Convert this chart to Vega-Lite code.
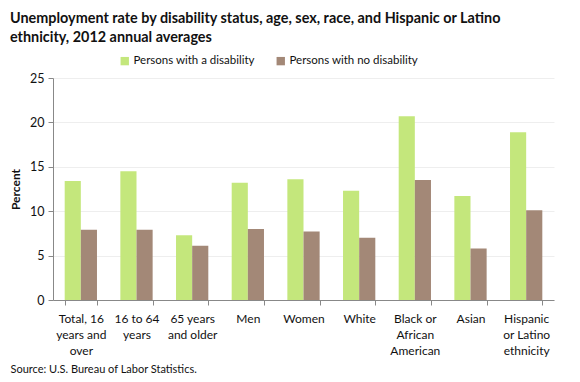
{
  "$schema": "https://vega.github.io/schema/vega-lite/v6.json",
  "width": 501,
  "height": 222,
  "autosize": {"type": "none"},
  "padding": {"left": 53, "top": 78, "right": 26, "bottom": 82},
  "background": "white",
  "config": {
    "font": "Lato",
    "view": {"stroke": null},
    "axis": {"labelFont": "Lato", "titleFont": "Lato", "labelColor": "#111111", "titleColor": "#111111"}
  },
  "title": {
    "text": ["Unemployment rate by disability status, age, sex, race, and Hispanic or Latino", "ethnicity, 2012 annual averages"],
    "anchor": "start",
    "frame": "group",
    "dx": -43,
    "offset": 10,
    "fontSize": 14.4,
    "fontWeight": "bold",
    "lineHeight": 19,
    "color": "#111111",
    "font": "Lato"
  },
  "data": {
    "values": [
      {"group": "Total, 16 years and over", "status": "Persons with a disability", "rate": 13.4},
      {"group": "Total, 16 years and over", "status": "Persons with no disability", "rate": 7.9},
      {"group": "16 to 64 years", "status": "Persons with a disability", "rate": 14.5},
      {"group": "16 to 64 years", "status": "Persons with no disability", "rate": 7.9},
      {"group": "65 years and older", "status": "Persons with a disability", "rate": 7.3},
      {"group": "65 years and older", "status": "Persons with no disability", "rate": 6.1},
      {"group": "Men", "status": "Persons with a disability", "rate": 13.2},
      {"group": "Men", "status": "Persons with no disability", "rate": 8.0},
      {"group": "Women", "status": "Persons with a disability", "rate": 13.6},
      {"group": "Women", "status": "Persons with no disability", "rate": 7.7},
      {"group": "White", "status": "Persons with a disability", "rate": 12.3},
      {"group": "White", "status": "Persons with no disability", "rate": 7.0},
      {"group": "Black or African American", "status": "Persons with a disability", "rate": 20.7},
      {"group": "Black or African American", "status": "Persons with no disability", "rate": 13.5},
      {"group": "Asian", "status": "Persons with a disability", "rate": 11.7},
      {"group": "Asian", "status": "Persons with no disability", "rate": 5.8},
      {"group": "Hispanic or Latino ethnicity", "status": "Persons with a disability", "rate": 18.9},
      {"group": "Hispanic or Latino ethnicity", "status": "Persons with no disability", "rate": 10.1}
    ]
  },
  "mark": {"type": "bar"},
  "encoding": {
    "x": {
      "field": "group",
      "type": "nominal",
      "sort": null,
      "scale": {"paddingInner": 0.42, "paddingOuter": 0.21},
      "axis": {
        "title": "Source: U.S. Bureau of Labor Statistics.",
        "titleX": -43,
        "titleY": 69,
        "titleAlign": "left",
        "titleAnchor": "start",
        "titleBaseline": "middle",
        "titleFontWeight": "normal",
        "titleFontSize": 11,
        "labelAngle": 0,
        "labelFontSize": 12,
        "labelLineHeight": 16,
        "labelPadding": 8,
        "labelBaseline": "top",
        "tickBand": "extent",
        "tickSize": 5,
        "tickColor": "#888888",
        "domainColor": "#888888",
        "labelExpr": "datum.value == 'Total, 16 years and over' ? ['Total, 16', 'years and', 'over'] : datum.value == '16 to 64 years' ? ['16 to 64', 'years'] : datum.value == '65 years and older' ? ['65 years', 'and older'] : datum.value == 'Black or African American' ? ['Black or', 'African', 'American'] : datum.value == 'Hispanic or Latino ethnicity' ? ['Hispanic', 'or Latino', 'ethnicity'] : datum.value"
      }
    },
    "xOffset": {"field": "status", "type": "nominal"},
    "y": {
      "field": "rate",
      "type": "quantitative",
      "scale": {"domain": [0, 25], "nice": false},
      "axis": {
        "title": "Percent",
        "titleFontSize": 12,
        "titleFontWeight": "bold",
        "titlePadding": 7,
        "values": [0, 5, 10, 15, 20, 25],
        "labelFontSize": 12.5,
        "labelPadding": 4,
        "tickSize": 5,
        "tickColor": "#888888",
        "domainColor": "#888888",
        "gridColor": "#EEEEEE"
      }
    },
    "color": {
      "field": "status",
      "type": "nominal",
      "scale": {"domain": ["Persons with a disability", "Persons with no disability"], "range": ["#C4E77C", "#A38877"]},
      "legend": {
        "title": null,
        "orient": "none",
        "legendX": 66,
        "legendY": -23,
        "direction": "horizontal",
        "columns": 2,
        "columnPadding": 20,
        "symbolType": "square",
        "symbolSize": 70,
        "symbolStrokeWidth": 0,
        "labelFontSize": 11.5,
        "labelOffset": 3,
        "labelColor": "#111111"
      }
    }
  }
}
